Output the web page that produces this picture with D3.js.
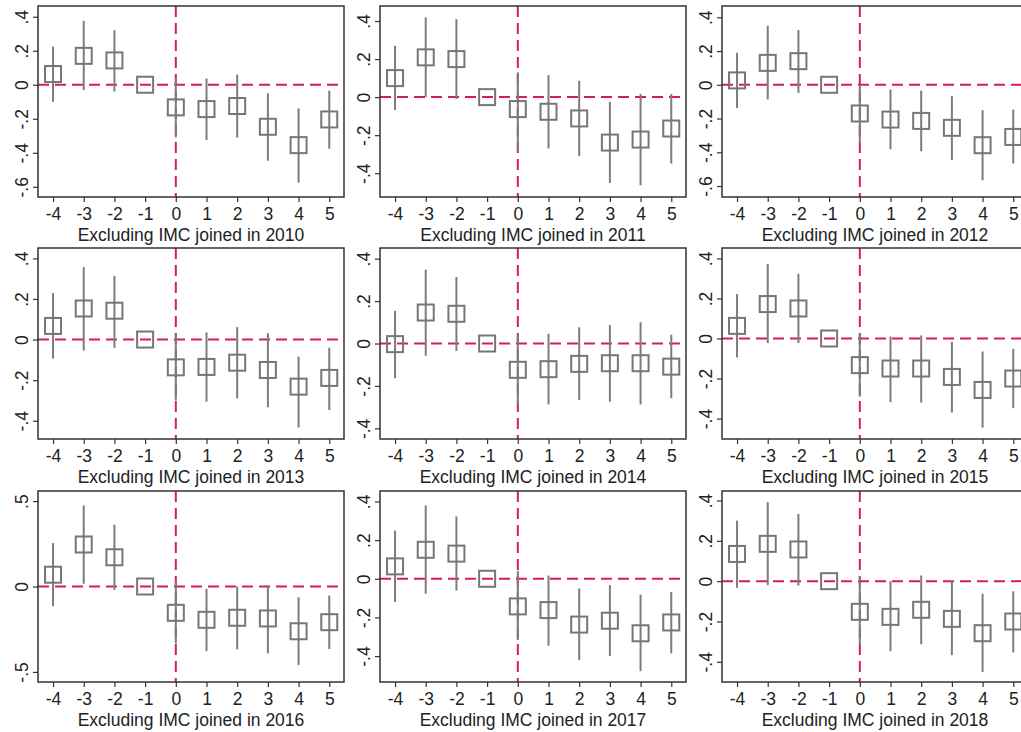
<!DOCTYPE html>
<html>
<head>
<meta charset="utf-8">
<script src="https://cdn.jsdelivr.net/npm/d3@7"></script>
<style>
  html, body { margin: 0; padding: 0; background: #fff; }
  svg { display: block; }
</style>
</head>
<body>
<svg id="chart" width="1021" height="732"></svg>
<script>
// ---------------- DATA ----------------
const periods = [-4, -3, -2, -1, 0, 1, 2, 3, 4, 5];
const years = [2010, 2011, 2012, 2013, 2014, 2015, 2016, 2017, 2018];

const est2010 = [0.063, 0.170, 0.143, 0, -0.133, -0.143, -0.125, -0.247, -0.355, -0.204];
const lo2010  = [-0.100, -0.031, -0.040, 0, -0.310, -0.325, -0.310, -0.447, -0.576, -0.376];
const hi2010  = [0.224, 0.376, 0.320, 0, 0.040, 0.037, 0.060, -0.051, -0.139, -0.035];

const est2011 = [0.100, 0.209, 0.200, 0, -0.063, -0.077, -0.112, -0.239, -0.223, -0.165];
const lo2011  = [-0.068, 0.000, -0.010, 0, -0.280, -0.270, -0.310, -0.451, -0.463, -0.349];
const hi2011  = [0.270, 0.419, 0.410, 0, 0.130, 0.116, 0.086, -0.025, 0.016, 0.016];

const est2012 = [0.026, 0.130, 0.140, 0, -0.170, -0.206, -0.214, -0.255, -0.358, -0.309];
const lo2012  = [-0.137, -0.087, -0.048, 0, -0.340, -0.382, -0.394, -0.447, -0.566, -0.467];
const hi2012  = [0.190, 0.350, 0.325, 0, 0.000, -0.028, -0.034, -0.067, -0.150, -0.147];

const est2013 = [0.067, 0.153, 0.142, 0, -0.137, -0.135, -0.114, -0.150, -0.232, -0.189];
const lo2013  = [-0.094, -0.054, -0.041, 0, -0.300, -0.306, -0.290, -0.334, -0.433, -0.347];
const hi2013  = [0.229, 0.357, 0.314, 0, 0.030, 0.035, 0.061, 0.031, -0.084, -0.040];

const est2014 = [-0.003, 0.146, 0.140, 0, -0.124, -0.121, -0.096, -0.093, -0.093, -0.109];
const lo2014  = [-0.164, -0.058, -0.035, 0, -0.289, -0.287, -0.266, -0.274, -0.287, -0.258];
const hi2014  = [0.154, 0.348, 0.313, 0, 0.041, 0.046, 0.076, 0.087, 0.100, 0.041];

const est2015 = [0.063, 0.172, 0.150, 0, -0.133, -0.150, -0.150, -0.192, -0.257, -0.200];
const lo2015  = [-0.095, -0.023, -0.023, 0, -0.290, -0.318, -0.320, -0.370, -0.445, -0.348];
const hi2015  = [0.222, 0.372, 0.323, 0, 0.027, 0.010, 0.015, -0.017, -0.065, -0.052];

const est2016 = [0.069, 0.246, 0.171, 0, -0.154, -0.195, -0.183, -0.187, -0.262, -0.209];
const lo2016  = [-0.116, 0.016, -0.020, 0, -0.333, -0.378, -0.368, -0.392, -0.460, -0.366];
const hi2016  = [0.254, 0.474, 0.362, 0, 0.030, -0.014, 0.000, 0.006, -0.063, -0.053];

const est2017 = [0.064, 0.150, 0.130, 0, -0.143, -0.162, -0.237, -0.217, -0.282, -0.226];
const lo2017  = [-0.120, -0.077, -0.061, 0, -0.317, -0.346, -0.421, -0.400, -0.478, -0.386];
const hi2017  = [0.249, 0.379, 0.323, 0, 0.040, 0.017, -0.050, -0.033, -0.082, -0.068];

const est2018 = [0.135, 0.185, 0.157, 0, -0.152, -0.177, -0.142, -0.187, -0.258, -0.200];
const lo2018  = [-0.033, -0.020, -0.022, 0, -0.317, -0.347, -0.313, -0.367, -0.450, -0.353];
const hi2018  = [0.300, 0.392, 0.333, 0, 0.025, 0.000, 0.028, 0.000, -0.063, -0.050];

// y-axis range and ticks per panel
const yMin = [-0.66, -0.525, -0.665, -0.49, -0.45, -0.502, -0.559, -0.534, -0.50];
const yMax = [0.463, 0.479, 0.467, 0.451, 0.45, 0.452, 0.559, 0.454, 0.447];
const ticksWide = [-0.6, -0.4, -0.2, 0, 0.2, 0.4];
const ticksMid = [-0.4, -0.2, 0, 0.2, 0.4];
const ticksHalf = [-0.5, 0, 0.5];
const panelTicks = [ticksWide, ticksMid, ticksWide, ticksMid, ticksMid, ticksMid, ticksHalf, ticksMid, ticksMid];

const estimates = [est2010, est2011, est2012, est2013, est2014, est2015, est2016, est2017, est2018];
const lowers = [lo2010, lo2011, lo2012, lo2013, lo2014, lo2015, lo2016, lo2017, lo2018];
const uppers = [hi2010, hi2011, hi2012, hi2013, hi2014, hi2015, hi2016, hi2017, hi2018];

// ---------------- DRAW ----------------
const svg = d3.select("#chart");
const colLeft = [38, 380, 722];
const rowTop = [6, 248, 491];
const pw = 306, ph = 191;
const red = "#d81e4d";
const gray = "#767676";
const font = "Arial, 'Liberation Sans', sans-serif";

function fmt(v) {
  if (v === 0) return "0";
  let s = String(Math.round(v * 10) / 10);
  s = s.replace("0.", ".");
  return s;
}

years.forEach((yr, i) => {
  const col = i % 3, row = Math.floor(i / 3);
  const x0 = colLeft[col], y0 = rowTop[row];
  const g = svg.append("g").attr("transform", `translate(${x0},${y0})`);

  const x = d3.scaleLinear().domain([-4.49, 5.48]).range([0, pw]);
  const y = d3.scaleLinear().domain([yMin[i], yMax[i]]).range([ph, 0]);

  // reference lines
  g.append("line")
    .attr("x1", 0).attr("x2", pw)
    .attr("y1", y(0)).attr("y2", y(0))
    .attr("stroke", red).attr("stroke-width", 2)
    .attr("stroke-dasharray", "11,6");
  g.append("line")
    .attr("x1", x(0)).attr("x2", x(0))
    .attr("y1", 0).attr("y2", ph)
    .attr("stroke", red).attr("stroke-width", 2)
    .attr("stroke-dasharray", "11,6");

  const data = periods.map((p, k) => ({ p, est: estimates[i][k], lo: lowers[i][k], hi: uppers[i][k] }));

  // CI bars
  g.selectAll("line.ci").data(data.filter(d => d.hi !== d.lo)).enter()
    .append("line").attr("class", "ci")
    .attr("x1", d => x(d.p)).attr("x2", d => x(d.p))
    .attr("y1", d => y(d.lo)).attr("y2", d => y(d.hi))
    .attr("stroke", "#7c7c7c").attr("stroke-width", 2);

  // hollow square markers
  const s = 16;
  g.selectAll("rect.mk").data(data).enter()
    .append("rect").attr("class", "mk")
    .attr("x", d => x(d.p) - s / 2).attr("y", d => y(d.est) - s / 2)
    .attr("width", s).attr("height", s)
    .attr("fill", "none").attr("stroke", gray).attr("stroke-width", 2);

  // frame
  g.append("rect").attr("x", 0).attr("y", 0).attr("width", pw).attr("height", ph)
    .attr("fill", "none").attr("stroke", "#333").attr("stroke-width", 1.5);

  // x axis
  const xa = g.append("g").attr("transform", `translate(0,${ph})`)
    .call(d3.axisBottom(x).tickValues(periods).tickSize(5).tickFormat(d3.format("d")));
  xa.select(".domain").remove();
  xa.selectAll(".tick line").attr("stroke", "#333").attr("stroke-width", 1.2);
  xa.selectAll(".tick text").attr("font-family", font).attr("font-size", 17.5)
    .attr("fill", "#222").attr("y", 11).attr("dy", "0.71em").text(d => String(d));

  // y axis
  const ya = g.append("g")
    .call(d3.axisLeft(y).tickValues(panelTicks[i]).tickSize(5).tickFormat(fmt));
  ya.select(".domain").remove();
  ya.selectAll(".tick line").attr("stroke", "#333").attr("stroke-width", 1.2);
  ya.selectAll(".tick text")
    .attr("font-family", font).attr("font-size", 17.5).attr("fill", "#222")
    .attr("x", null).attr("dy", null)
    .attr("text-anchor", "middle")
    .attr("transform", "translate(-10,0) rotate(-90)");

  // subtitle
  g.append("text")
    .attr("x", pw / 2).attr("y", ph + 44)
    .attr("text-anchor", "middle")
    .attr("font-family", font).attr("font-size", 17.5).attr("fill", "#222")
    .text(`Excluding IMC joined in ${yr}`);
});
</script>
</body>
</html>
